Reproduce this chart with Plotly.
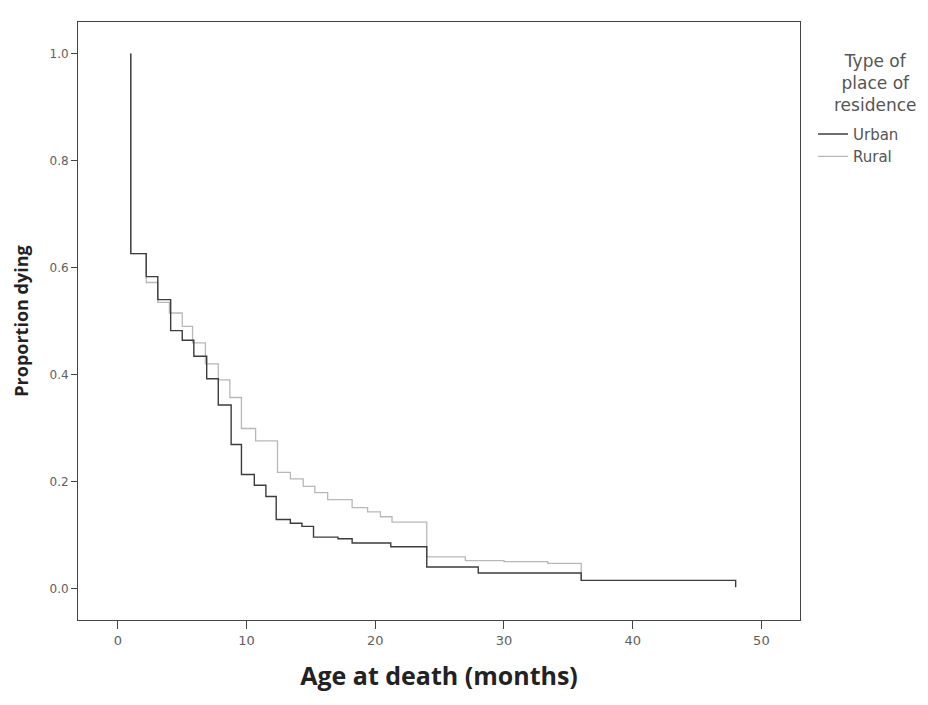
import plotly.graph_objects as go

# Kaplan-Meier style step data (months, proportion)
urban_months = [1.0, 1.0, 2.2, 3.1, 4.1, 5.0, 5.9, 6.9, 7.8, 8.8, 9.6, 10.6, 11.5, 12.3,
                13.4, 14.3, 15.2, 17.1, 18.2, 21.2, 24.0, 28.0, 36.0, 48.0]
urban_prop = [1.0, 0.626, 0.583, 0.540, 0.482, 0.464, 0.434, 0.392, 0.343, 0.269, 0.213,
              0.193, 0.172, 0.129, 0.122, 0.116, 0.096, 0.093, 0.085, 0.078, 0.040, 0.029,
              0.015, 0.002]

rural_months = [1.0, 1.0, 2.2, 3.1, 4.0, 5.0, 5.8, 6.8, 7.8, 8.7, 9.6, 10.7, 12.4, 13.4,
                14.4, 15.3, 16.3, 18.2, 19.4, 20.4, 21.3, 24.0, 27.0, 30.0, 33.4, 36.0]
rural_prop = [1.0, 0.626, 0.572, 0.535, 0.515, 0.490, 0.459, 0.420, 0.390, 0.357, 0.299,
              0.276, 0.217, 0.205, 0.191, 0.179, 0.166, 0.151, 0.143, 0.134, 0.124, 0.059,
              0.052, 0.050, 0.047, 0.015]

x_ticks = [0, 10, 20, 30, 40, 50]
y_ticks = [0.0, 0.2, 0.4, 0.6, 0.8, 1.0]
y_tick_labels = ["0.0", "0.2", "0.4", "0.6", "0.8", "1.0"]

legend_title = "Type of<br>place of<br>residence"

TICK_FONT = "DejaVu Sans, Liberation Sans, sans-serif"
TITLE_FONT = "Open Sans, Noto Sans, sans-serif"

fig = go.Figure()
fig.add_trace(go.Scatter(
    x=rural_months, y=rural_prop, mode="lines", name="Rural",
    line=dict(shape="hv", color="#b8b8b8", width=1.3),
))
fig.add_trace(go.Scatter(
    x=urban_months, y=urban_prop, mode="lines", name="Urban",
    line=dict(shape="hv", color="#3c3c3c", width=1.4),
))

fig.update_layout(
    width=912, height=689,
    margin=dict(l=70, r=120, t=14, b=68),
    paper_bgcolor="white", plot_bgcolor="white",
    font=dict(family=TICK_FONT, color="#606060", size=12),
    legend=dict(
        x=1.018, y=0.84, xanchor="left", yanchor="top",
        traceorder="reversed",
        font=dict(family=TICK_FONT, size=15, color="#555555"),
        itemwidth=30, tracegroupgap=0,
        bgcolor="rgba(0,0,0,0)",
    ),
    annotations=[dict(
        text=legend_title, xref="paper", yref="paper",
        x=1.105, y=0.955, xanchor="center", yanchor="top",
        showarrow=False, align="center",
        font=dict(family=TICK_FONT, size=17, color="#555555"),
    )],
)

fig.update_xaxes(
    range=[-3.1, 53.0], tickvals=x_ticks, ticktext=[str(v) for v in x_ticks],
    ticks="outside", ticklen=8, tickcolor="#444444", tickwidth=1,
    showline=True, linecolor="#444444", linewidth=1, mirror=True,
    showgrid=False, zeroline=False,
    tickfont=dict(family=TICK_FONT, size=13, color="#606060"),
    title=dict(text="<b>Age at death (months)</b>",
               font=dict(family=TITLE_FONT, size=25, color="#222222"),
               standoff=20),
)
fig.update_yaxes(
    range=[-0.059, 1.059], tickvals=y_ticks, ticktext=y_tick_labels,
    ticks="outside", ticklen=6, tickcolor="#444444", tickwidth=1,
    showline=True, linecolor="#444444", linewidth=1, mirror=True,
    showgrid=False, zeroline=False,
    tickfont=dict(family=TICK_FONT, size=12, color="#606060"),
    title=dict(text="<b>Proportion dying</b>",
               font=dict(family=TITLE_FONT, size=18, color="#222222"),
               standoff=16),
)

fig.write_html("out.html")
